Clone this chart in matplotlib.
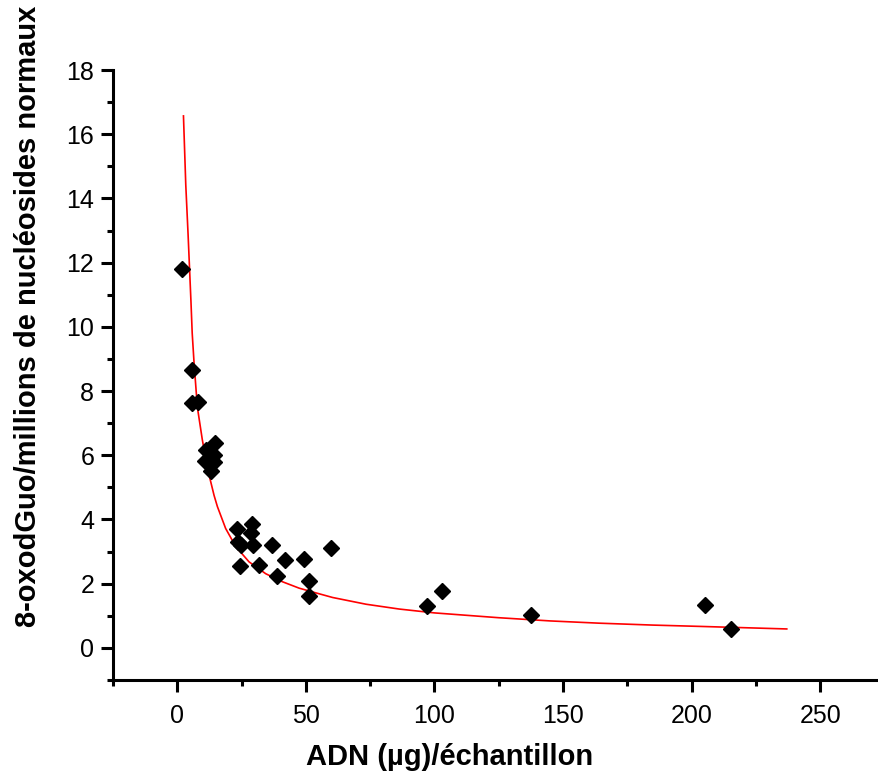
import matplotlib
matplotlib.use("Agg")
import matplotlib.pyplot as plt
from matplotlib.ticker import MultipleLocator

# measured points (DNA amount vs 8-oxodGuo)
adn = [2.0, 5.7, 5.9, 8.1, 14.6, 11.3, 14.4, 10.7, 14.4, 13.2,
       23.1, 29.2, 28.8, 23.6, 24.7, 29.6, 37.0, 59.7, 24.4, 31.8,
       41.8, 49.3, 38.6, 51.3, 51.3, 97.0, 102.8, 137.6, 205.1, 215.5]
oxo = [11.8, 8.66, 7.62, 7.67, 6.38, 6.16, 6.0, 5.81, 5.78, 5.5,
       3.71, 3.86, 3.59, 3.3, 3.22, 3.19, 3.22, 3.12, 2.55, 2.59,
       2.75, 2.76, 2.24, 2.07, 1.61, 1.3, 1.77, 1.04, 1.33, 0.58]

# fitted curve
fit_x = [2.4, 3.3, 4.2, 5.3, 5.8, 6.5, 7.8, 9.7, 11.7, 14.3, 15.6, 18.8,
         22.7, 27.9, 34.4, 40.9, 47.4, 54.5, 60.4, 73.4, 86.3, 100, 125,
         145, 164, 185, 203, 220, 237]
fit_y = [16.57, 14.42, 12.87, 10.82, 9.8, 8.9, 7.5, 6.5, 5.6, 4.75, 4.4, 3.72,
         3.16, 2.68, 2.31, 2.06, 1.86, 1.7, 1.57, 1.36, 1.21, 1.09, 0.94,
         0.84, 0.77, 0.71, 0.67, 0.63, 0.59]

xticks = [0, 50, 100, 150, 200, 250]
yticks = [0, 2, 4, 6, 8, 10, 12, 14, 16, 18]

plt.rcParams['font.family'] = ['Liberation Sans', 'DejaVu Sans']

W, H = 879, 776
fig = plt.figure(figsize=(W / 100, H / 100), dpi=100)
ax = fig.add_axes([113 / W, 96 / H, (884.5 - 113) / W, 610 / H])

ax.plot(fit_x, fit_y, color='red', lw=1.2, zorder=2)
ax.plot(adn, oxo, 'D', color='black', ms=8, zorder=3)

ax.set_xlim(-25, 275)
ax.set_ylim(-1, 18)
ax.set_xticks(xticks)
ax.set_yticks(yticks)
ax.xaxis.set_minor_locator(MultipleLocator(25))
ax.yaxis.set_minor_locator(MultipleLocator(1))

for s in ['top', 'right']:
    ax.spines[s].set_visible(False)
for s in ['left', 'bottom']:
    ax.spines[s].set_linewidth(2.2)

ax.tick_params(which='major', length=8.5, width=2.2, labelsize=18)
ax.tick_params(which='minor', length=4.3, width=2.2)
ax.tick_params(axis='y', which='major', pad=5)
ax.tick_params(axis='x', which='major', pad=9)

fig.text(450 / W, 1 - 757 / H, 'ADN (µg)/échantillon', fontsize=21,
         fontweight='bold', ha='center', va='center')
fig.text(28 / W, 1 - 316 / H, '8-oxodGuo/millions de nucléosides normaux',
         fontsize=21, fontweight='bold', rotation=90, ha='center', va='center')

fig.savefig('out.png', dpi=100)
